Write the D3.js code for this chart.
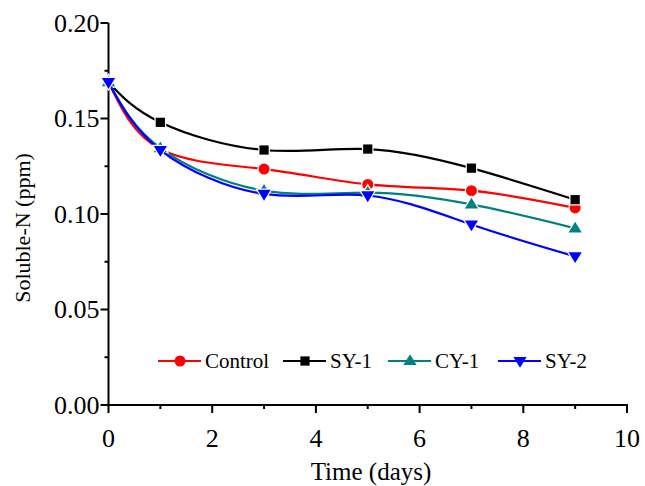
<!DOCTYPE html>
<html>
<head>
<meta charset="utf-8">
<script src="https://cdn.jsdelivr.net/npm/d3@7"></script>
<style>
  body { margin: 0; background: #fff; }
  text { font-family: "Liberation Serif", "Times New Roman", serif; fill: #000; }
</style>
</head>
<body>
<div id="chart"></div>
<script>
// data
var days = [0, 1, 3, 5, 7, 9];
var seriesNames = ["Control", "SY-1", "CY-1", "SY-2"];
var control = [0.169, 0.134, 0.1235, 0.1155, 0.1122, 0.1032];
var sy1 = [0.169, 0.148, 0.1335, 0.134, 0.124, 0.1075];
var cy1 = [0.169, 0.1345, 0.1122, 0.1112, 0.105, 0.0925];
var sy2 = [0.169, 0.1335, 0.1105, 0.1097, 0.0945, 0.0778];
var colors = ["#ff0000", "#000000", "#008080", "#0000ff"];
var shapes = [d3.symbolCircle, d3.symbolSquare, "up", "down"];
var xTicks = [0, 2, 4, 6, 8, 10];
var yTicks = [0, 0.05, 0.10, 0.15, 0.20];

var width = 645, height = 486;
var svg = d3.select("#chart").append("svg")
    .attr("width", width)
    .attr("height", height);

var x = d3.scaleLinear().domain([0, 10]).range([108.5, 627]);
var y = d3.scaleLinear().domain([0, 0.2]).range([405, 23]);

// triangle paths
function tri(size, up) {
    var h = size * 0.9, w = size * 0.55;
    return up ? "M0," + (-h * 0.62) + "L" + w + "," + (h * 0.38) + "L" + (-w) + "," + (h * 0.38) + "Z"
              : "M0," + (h * 0.62) + "L" + w + "," + (-h * 0.38) + "L" + (-w) + "," + (-h * 0.38) + "Z";
}
function markerPath(shape) {
    if (shape === "up") return tri(12, true);
    if (shape === "down") return tri(12, false);
    if (shape === d3.symbolCircle) return d3.symbol().type(shape).size(95)();
    return d3.symbol().type(shape).size(85)();
}

// axes
var yAxis = svg.append("g").attr("transform", "translate(" + x(0) + ",0)");
yAxis.append("line").attr("y1", y(0)).attr("y2", y(0.2)).attr("stroke", "#000").attr("stroke-width", 2);
yAxis.selectAll(".maj").data(yTicks).enter().append("line")
    .attr("x1", -8).attr("x2", 0)
    .attr("y1", function(d) { return y(d); }).attr("y2", function(d) { return y(d); })
    .attr("stroke", "#000").attr("stroke-width", 2);
yAxis.selectAll(".min").data([0.025, 0.075, 0.125, 0.175]).enter().append("line")
    .attr("x1", -4).attr("x2", 0)
    .attr("y1", function(d) { return y(d); }).attr("y2", function(d) { return y(d); })
    .attr("stroke", "#000").attr("stroke-width", 2);
yAxis.selectAll(".lab").data(yTicks).enter().append("text")
    .attr("x", -9).attr("y", function(d) { return y(d); })
    .attr("dy", "0.34em")
    .attr("text-anchor", "end")
    .style("font-size", "26px")
    .text(function(d) { return d3.format(".2f")(d); });

var xAxis = svg.append("g").attr("transform", "translate(0," + y(0) + ")");
xAxis.append("line").attr("x1", x(0) - 1).attr("x2", x(10) + 1).attr("stroke", "#000").attr("stroke-width", 2);
xAxis.selectAll(".maj").data(xTicks).enter().append("line")
    .attr("x1", function(d) { return x(d); }).attr("x2", function(d) { return x(d); })
    .attr("y1", 0).attr("y2", 8)
    .attr("stroke", "#000").attr("stroke-width", 2);
xAxis.selectAll(".min").data([1, 3, 5, 7, 9]).enter().append("line")
    .attr("x1", function(d) { return x(d); }).attr("x2", function(d) { return x(d); })
    .attr("y1", 0).attr("y2", 4)
    .attr("stroke", "#000").attr("stroke-width", 2);
xAxis.selectAll(".lab").data(xTicks).enter().append("text")
    .attr("x", function(d) { return x(d); }).attr("y", 42)
    .attr("text-anchor", "middle")
    .style("font-size", "26px")
    .text(function(d) { return d; });

// axis titles
svg.append("text")
    .attr("x", 371).attr("y", 480)
    .attr("text-anchor", "middle")
    .style("font-size", "25px")
    .text("Time (days)");
svg.append("text")
    .attr("transform", "translate(30,228) rotate(-90)")
    .attr("text-anchor", "middle")
    .style("font-size", "22px")
    .text("Soluble-N (ppm)");

// series
var allSeries = [control, sy1, cy1, sy2];
var line = d3.line()
    .x(function(d, i) { return x(days[i]); })
    .y(function(d) { return y(d); })
    .curve(d3.curveNatural);

allSeries.forEach(function(vals, k) {
    var g = svg.append("g");
    g.append("path").datum(vals)
        .attr("d", line)
        .attr("fill", "none")
        .attr("stroke", colors[k])
        .attr("stroke-width", 2.2);
    g.selectAll("path.m").data(vals).enter().append("path")
        .attr("class", "m")
        .attr("transform", function(d, i) { return "translate(" + x(days[i]) + "," + y(d) + ")"; })
        .attr("d", markerPath(shapes[k]))
        .attr("fill", colors[k])
        .attr("stroke", "#fff")
        .attr("stroke-width", 2.5)
        .attr("paint-order", "stroke");
});

// legend
var legendX = [158, 283, 388, 498];
var legendY = 361;
var legend = svg.append("g").attr("class", "legend");
seriesNames.forEach(function(name, k) {
    var lg = legend.append("g").attr("transform", "translate(" + legendX[k] + "," + legendY + ")");
    lg.append("line").attr("x1", 0).attr("x2", 43)
        .attr("stroke", colors[k]).attr("stroke-width", 2);
    lg.append("path")
        .attr("transform", "translate(22,0)")
        .attr("d", markerPath(shapes[k]))
        .attr("fill", colors[k]);
    lg.append("text")
        .attr("x", 47).attr("dy", "0.35em")
        .style("font-size", "21px")
        .text(name);
});
</script>
</body>
</html>
